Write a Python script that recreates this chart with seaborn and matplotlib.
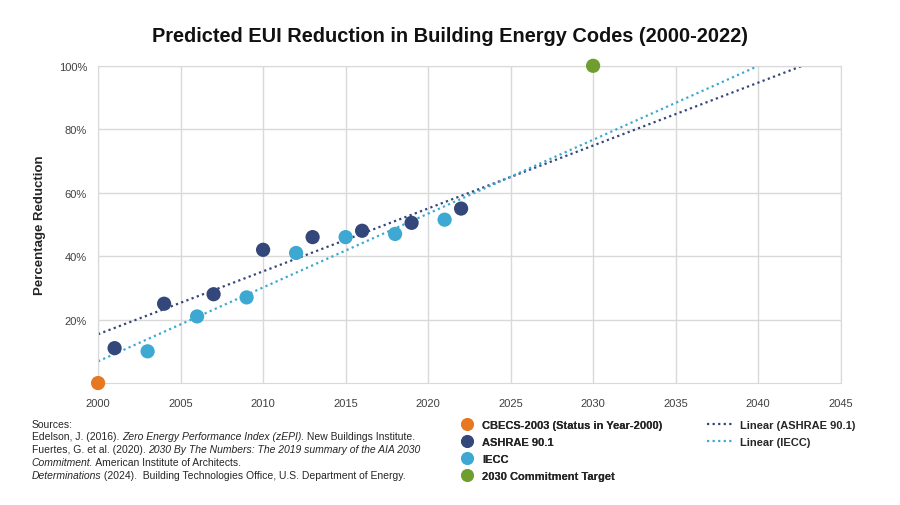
import numpy as np
import pandas as pd
import seaborn as sns
import matplotlib.pyplot as plt
from matplotlib.lines import Line2D
from matplotlib.ticker import FuncFormatter

# data (year, % reduction)
cbecs_year = [2000]
cbecs_pct = [0]
ashrae_year = [2001, 2004, 2007, 2010, 2013, 2016, 2019, 2022]
ashrae_pct = [11, 25, 28, 42, 46, 48, 50.5, 55]
iecc_year = [2003, 2006, 2009, 2012, 2015, 2018, 2021]
iecc_pct = [10, 21, 27, 41, 46, 47, 51.5]
target_year = [2030]
target_pct = [100]

c_cbecs = '#E87722'
c_ashrae = '#34477A'
c_iecc = '#3DA9D2'
c_target = '#6E9F2E'

df = pd.concat([
    pd.DataFrame({'Year': cbecs_year, 'Pct': cbecs_pct, 'Series': 'CBECS-2003 (Status in Year-2000)'}),
    pd.DataFrame({'Year': ashrae_year, 'Pct': ashrae_pct, 'Series': 'ASHRAE 90.1'}),
    pd.DataFrame({'Year': iecc_year, 'Pct': iecc_pct, 'Series': 'IECC'}),
    pd.DataFrame({'Year': target_year, 'Pct': target_pct, 'Series': '2030 Commitment Target'}),
], ignore_index=True)
palette = {'CBECS-2003 (Status in Year-2000)': c_cbecs, 'ASHRAE 90.1': c_ashrae,
           'IECC': c_iecc, '2030 Commitment Target': c_target}

sns.set_style('white')
plt.rcParams['font.family'] = ['Liberation Sans', 'DejaVu Sans']

fig = plt.figure(figsize=(9, 5.06), dpi=100)
ax = fig.add_axes([0.109, 0.241, 0.825, 0.627])

# linear trendlines
xs = np.linspace(2000, 2045, 200)
for yr, pc, col in [(ashrae_year, ashrae_pct, c_ashrae), (iecc_year, iecc_pct, c_iecc)]:
    m, b = np.polyfit(yr, pc, 1)
    ax.plot(xs, m * xs + b, linestyle=(0, (1, 1.5)), color=col, lw=1.6, zorder=2)

sns.scatterplot(data=df, x='Year', y='Pct', hue='Series', palette=palette, s=105,
                edgecolor='none', ax=ax, legend=False, zorder=3, clip_on=False)

ax.set_xlim(2000, 2045)
ax.set_ylim(0, 100)
ax.set_xticks(range(2000, 2046, 5))
ax.set_yticks([20, 40, 60, 80, 100])
ax.yaxis.set_major_formatter(FuncFormatter(lambda v, p: f'{v:.0f}%'))
ax.grid(True, color='#D9D9D9', lw=1)
for s in ax.spines.values():
    s.set_color('#D9D9D9')
ax.tick_params(axis='x', length=0, labelsize=8, colors='#404040', pad=11)
ax.tick_params(axis='y', length=0, labelsize=8, colors='#404040', pad=8)
ax.set_xlabel('')
ax.set_ylabel('Percentage Reduction', fontsize=9.5, fontweight='bold', labelpad=9)

fig.text(0.5, 0.928, 'Predicted EUI Reduction in Building Energy Codes (2000-2022)',
         ha='center', va='center', fontsize=14.4, fontweight='bold', color='#111111')

# legend
h = [Line2D([], [], marker='o', ls='', color=palette[k], markersize=8.2) for k in palette]
leg1 = fig.legend(h, list(palette), loc='upper left', bbox_to_anchor=(0.495, 0.187),
                  frameon=False, handletextpad=0.4, labelspacing=0.62,
                  prop={'weight': 'bold', 'size': 8})
h2 = [Line2D([], [], ls=(0, (1, 1.5)), lw=1.6, color=c) for c in (c_ashrae, c_iecc)]
fig.legend(h2, ['Linear (ASHRAE 90.1)', 'Linear (IECC)'], loc='upper left',
           bbox_to_anchor=(0.774, 0.187), frameon=False, handlelength=2.3,
           handletextpad=0.75, labelspacing=0.62, prop={'weight': 'bold', 'size': 8})
fig.add_artist(leg1)

# sources, with italic pieces chained onto each other
src_lines = [
    [('Sources:', 'normal')],
    [('Edelson, J. (2016). ', 'normal'), ('Zero Energy Performance Index (zEPI).', 'italic'),
     (' New Buildings Institute.', 'normal')],
    [('Fuertes, G. et al. (2020). ', 'normal'),
     ('2030 By The Numbers: The 2019 summary of the AIA 2030', 'italic')],
    [('Commitment.', 'italic'), (' American Institute of Architects.', 'normal')],
    [('Determinations', 'italic'), (' (2024).  Building Technologies Office, U.S. Department of Energy.', 'normal')],
]
y0 = 0.155
for i, parts in enumerate(src_lines):
    prev = None
    for txt, style in parts:
        if prev is None:
            prev = fig.text(0.035, y0 - i * 0.0252, txt, fontsize=7.5, style=style,
                            color='#262626', va='baseline')
        else:
            prev = ax.annotate(txt, xy=(1, 0), xycoords=prev, fontsize=7.5, style=style,
                               color='#262626', va='bottom', ha='left', annotation_clip=False)

fig.savefig('out.png', dpi=100)
